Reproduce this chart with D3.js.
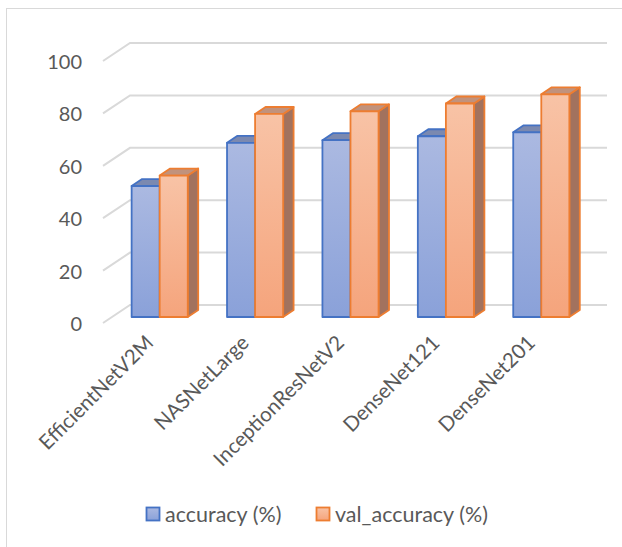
<!DOCTYPE html>
<html>
<head>
<meta charset="utf-8">
<script src="https://cdn.jsdelivr.net/npm/d3@7"></script>
<style>
  html, body { margin: 0; padding: 0; background: #fff; }
  svg { display: block; font-family: Lato, "Open Sans", sans-serif; }
</style>
</head>
<body>
<svg id="chart" width="622" height="547"></svg>
<script>
// Model accuracy comparison (3D clustered columns)
const categories = ["EfficientNetV2M", "NASNetLarge", "InceptionResNetV2", "DenseNet121", "DenseNet201"];
const accuracy = [50, 66.5, 67.5, 69, 70.5];
const valAccuracy = [54, 77.5, 78.5, 81.5, 85];
const seriesNames = ["accuracy (%)", "val_accuracy (%)"];
const yTicks = [0, 20, 40, 60, 80, 100];

const svg = d3.select("#chart");

// Outer chart frame
svg.append("rect")
  .attr("x", 6.5).attr("y", 8.5)
  .attr("width", 700).attr("height", 700)
  .attr("fill", "#fff").attr("stroke", "#d9d9d9").attr("stroke-width", 1);

// Front plane scales and the oblique depth offset
const y = d3.scaleLinear().domain([0, 100]).range([323, 61]);
const x = d3.scaleBand().domain(categories).range([103, 580]);
const inner = d3.scaleBand().domain(seriesNames).range([0, x.bandwidth()]).paddingOuter(0.7);
const DX = 27, DY = -18;
const proj = (px, py, z) => [px + DX * z, py + DY * z];
const zFront = 0.333, zBack = 0.72;

// Gradients for the front faces
const defs = svg.append("defs");
const styles = [
  { top: "#abb9e1", bottom: "#8aa1d9", stroke: "#4472c4", cap: "#7b89b0", side: "#6e7fa8", id: "gBlue" },
  { top: "#f8c3a6", bottom: "#f5a47c", stroke: "#ed7d31", cap: "#c1927c", side: "#a2725e", id: "gOrange" }
];
styles.forEach(s => {
  const g = defs.append("linearGradient").attr("id", s.id)
    .attr("x1", 0).attr("y1", 0).attr("x2", 0).attr("y2", 1);
  g.append("stop").attr("offset", "0%").attr("stop-color", s.top);
  g.append("stop").attr("offset", "100%").attr("stop-color", s.bottom);
});

// Gridlines: side-wall diagonal + back-wall horizontal
const grid = svg.append("g").attr("fill", "none").attr("stroke", "#d9d9d9").attr("stroke-width", 2);
yTicks.forEach(t => {
  const a = proj(x.range()[0], y(t), 0);
  const b = proj(x.range()[0], y(t), 1);
  const c = proj(x.range()[1], y(t), 1);
  grid.append("path").attr("d", `M${a}L${b}L${c}`);
});

// Y axis labels
svg.append("g").selectAll("text").data(yTicks).join("text")
  .attr("x", 82).attr("y", t => y(t))
  .attr("text-anchor", "end").attr("dominant-baseline", "central")
  .attr("font-size", 20).attr("fill", "#595959")
  .text(t => t);

// Bars
const seriesData = [accuracy, valAccuracy];
const poly = pts => "M" + pts.map(p => p.join(",")).join("L") + "Z";
const bars = svg.append("g");
categories.forEach((cat, i) => {
  seriesData.forEach((vals, si) => {
    const s = styles[si];
    const x0 = x(cat) + inner(seriesNames[si]);
    const x1 = x0 + inner.bandwidth();
    const yt = y(vals[i]), yb = y(0);
    const g = bars.append("g").attr("stroke", s.stroke).attr("stroke-width", 1.8).attr("stroke-linejoin", "round");
    // right side
    g.append("path").attr("fill", s.side)
      .attr("d", poly([proj(x1, yt, zFront), proj(x1, yt, zBack), proj(x1, yb, zBack), proj(x1, yb, zFront)]));
    // top
    g.append("path").attr("fill", s.cap)
      .attr("d", poly([proj(x0, yt, zFront), proj(x0, yt, zBack), proj(x1, yt, zBack), proj(x1, yt, zFront)]));
    // front
    const f0 = proj(x0, yt, zFront), f1 = proj(x1, yb, zFront);
    g.append("rect").attr("fill", `url(#${s.id})`)
      .attr("x", f0[0]).attr("y", f0[1])
      .attr("width", f1[0] - f0[0]).attr("height", f1[1] - f0[1]);
  });
});

// Category labels, rotated
svg.append("g").selectAll("text").data(categories).join("text")
  .attr("transform", d => `translate(${x(d) + x.bandwidth() / 2 + 4},${344}) rotate(-45)`)
  .attr("text-anchor", "end")
  .attr("font-size", 20.5).attr("fill", "#595959")
  .text(d => d);

// Legend
const legend = svg.append("g");
const legendX = [146, 316];
seriesNames.forEach((name, si) => {
  const s = styles[si];
  legend.append("rect")
    .attr("x", legendX[si] + 0.5).attr("y", 507.5).attr("width", 13).attr("height", 13)
    .attr("fill", `url(#${s.id})`).attr("stroke", s.stroke).attr("stroke-width", 1.8);
  legend.append("text")
    .attr("x", legendX[si] + 19).attr("y", 514)
    .attr("dominant-baseline", "central")
    .attr("font-size", 21.5).attr("fill", "#595959")
    .text(name);
});
</script>
</body>
</html>
